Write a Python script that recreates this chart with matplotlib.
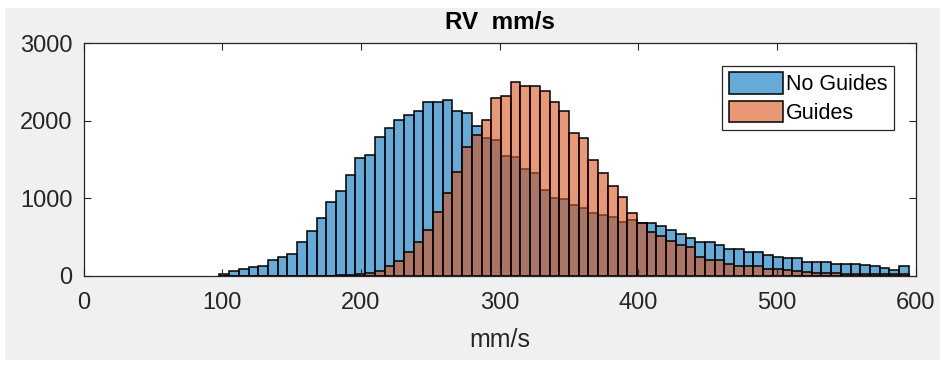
import matplotlib.pyplot as plt
from matplotlib.patches import Rectangle
import numpy as np

plt.rcParams['font.family'] = ['Liberation Sans', 'DejaVu Sans']

# histogram bins: 7 mm/s wide, first edge at 98
bin_start = 98
bin_width = 7

no_guides = [20, 55, 84, 108, 130, 198, 237, 286, 430, 575, 741, 953, 1093,
             1300, 1513, 1560, 1795, 1913, 2014, 2078, 2130, 2248, 2246, 2268,
             2124, 2100, 1935, 1773, 1752, 1540, 1532, 1377, 1330, 1110, 999,
             986, 918, 870, 805, 779, 758, 689, 715, 684, 680, 636, 588, 543,
             491, 439, 439, 396, 350, 343, 312, 300, 267, 245, 230, 228, 177,
             177, 175, 155, 145, 145, 135, 130, 100, 74, 127]

guides = [0, 0, 0, 0, 0, 0, 0, 0, 0, 0, 0, 0, 5,
          15, 20, 30, 65, 120, 190, 310, 430, 590, 826, 1070,
          1343, 1659, 1812, 2010, 2290, 2320, 2500, 2453, 2453, 2380, 2238,
          2126, 1846, 1773, 1490, 1322, 1155, 1015, 815, 678, 565, 515, 445,
          396, 366, 245, 203, 203, 155, 127, 119, 127, 92, 82, 78, 62, 45,
          38, 32, 30, 28, 25, 22, 22, 20, 18, 18]

edges = bin_start + bin_width * np.arange(len(no_guides))

blue = (0.0, 0.447, 0.741, 0.6)
orange = (0.85, 0.325, 0.098, 0.6)

fig = plt.figure(figsize=(9.49, 3.65), dpi=100)
fig.patch.set_facecolor('white')
fig.add_artist(Rectangle((5 / 949, 5 / 365), 935 / 949, 352 / 365,
                         transform=fig.transFigure, facecolor='#f0f0f0',
                         edgecolor='none', zorder=-10))
ax = fig.add_axes([0.088, 0.2447, 0.877, 0.6366])

ax.bar(edges, no_guides, width=bin_width, align='edge', color=blue,
       edgecolor='black', linewidth=1.1, label='No Guides')
ax.bar(edges, guides, width=bin_width, align='edge', color=orange,
       edgecolor='black', linewidth=1.1, label='Guides')

ax.set_xlim(0, 600)
ax.set_ylim(0, 3000)
ax.set_xticks(range(0, 601, 100))
ax.set_yticks([0, 1000, 2000, 3000])
ax.tick_params(direction='in', top=True, right=True, length=5, width=0.8,
               labelsize=17, colors='#262626')
ax.tick_params(axis='x', pad=12)
ax.tick_params(axis='y', pad=8)
for s in ax.spines.values():
    s.set_color('#262626')
    s.set_linewidth(0.9)

ax.set_title('RV  mm/s', fontsize=17.5, fontweight='bold', color='black', pad=10)
ax.set_xlabel('mm/s', fontsize=18, color='#262626', labelpad=10)

leg = ax.legend(loc='upper right', bbox_to_anchor=(0.9736, 0.9023), fontsize=15.5,
                fancybox=False, edgecolor='#262626', framealpha=1,
                handlelength=2.5, handleheight=1.15, handletextpad=0.15,
                borderpad=0.3, labelspacing=0.25, borderaxespad=0)
leg.get_frame().set_linewidth(0.9)

fig.savefig('out.png', dpi=100, facecolor=fig.get_facecolor())
